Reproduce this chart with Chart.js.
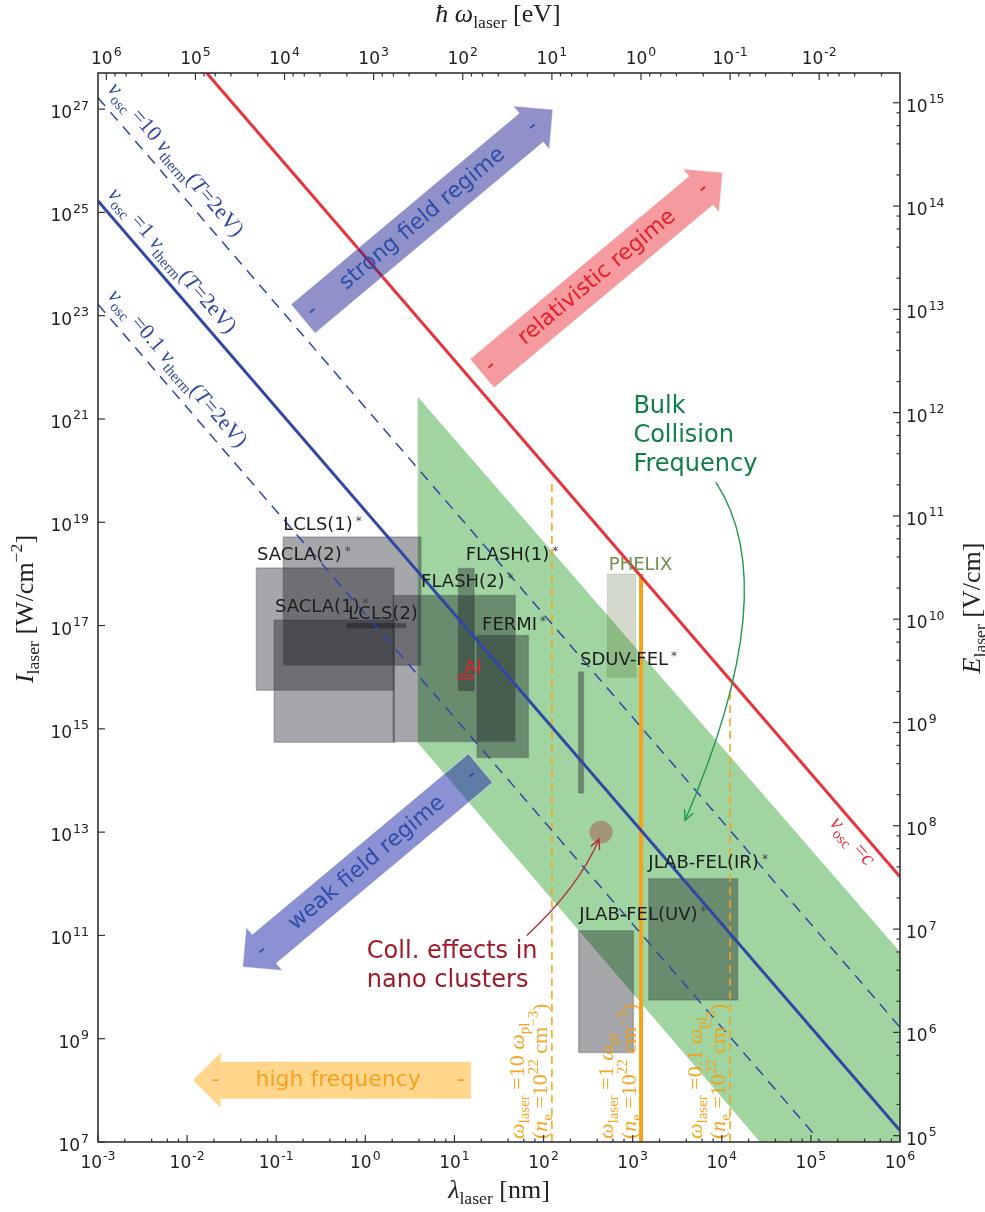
<!DOCTYPE html>
<html>
<head>
<meta charset="utf-8">
<script src="https://cdn.jsdelivr.net/npm/chart.js@4.4.1/dist/chart.umd.min.js"></script>
<style>
html, body { margin: 0; padding: 0; background: #fff; }
#wrap { width: 985px; height: 1212px; }
</style>
</head>
<body>
<div id="wrap"><canvas id="chart" width="985" height="1212"></canvas></div>
<script>
// axis ranges (lambda in nm, intensity in W/cm^2)
const lamRange = [1e-3, 1e6];
const intRange = [1e7, 5e27];
const HC = 1239.84;   // eV nm
const KE = 1.327e-3;  // I = KE * E^2  (E in V/cm)

// tick labels (exponents)
const xTickExp = [-3, -2, -1, 0, 1, 2, 3, 4, 5, 6];
const yTickExp = [7, 9, 11, 13, 15, 17, 19, 21, 23, 25, 27];
const eTickExp = [5, 6, 7, 8, 9, 10, 11, 12, 13, 14, 15];
const hwTickExp = [6, 5, 4, 3, 2, 1, 0, -1, -2];

// v_osc = v_therm lines
const lineLambda = [1e-3, 1e6];
const vTherm10 = [1.66e27, 1.66e9];
const vTherm1 = [1.66e25, 1.66e7];
const vTherm01 = [1.66e23, 1.66e5];
// v_osc = c
const relLambda = [0.0166, 1e6];
const relI = [5e27, 1.37e12];

// bulk collision frequency band
const bandLambda = [3.87, 1e6, 1e6, 2.69e4, 3.87];
const bandI = [2.7e21, 4.8e10, 1e7, 1e7, 5.4e14];

// light sources
const facilities = ['LCLS(1)', 'SACLA(2)', 'SACLA(1)', 'LCLS(2)', 'FLASH(2)', 'FLASH(1)', 'FERMI', 'SDUV-FEL', 'JLAB-FEL(UV)', 'JLAB-FEL(IR)'];
const lamMin = [0.12, 0.06, 0.095, 0.62, 2.06, 11.1, 18, 248, 248, 1517];
const lamMax = [4.2, 2.08, 2.12, 2.84, 48, 16.6, 67.5, 280, 1019, 15100];
const intMin = [1.7e16, 5.6e15, 5.5e14, 9.1e16, 5.7e14, 5.5e15, 2.8e14, 5.7e13, 5.4e8, 5.6e9];
const intMax = [5.2e18, 1.3e18, 1.26e17, 1.09e17, 3.8e17, 1.27e18, 6.4e16, 1.26e16, 1.23e11, 1.25e12];

const phelixLam = [520, 1084];
const phelixI = [1e16, 1e18];
const alLam = [11, 16.3];
const alI = [9.5e15, 1.07e16];

// nano cluster point
const clusterLam = [442];
const clusterI = [1e13];

// omega_laser = omega_pl lines
const plasmaLam = [124, 1242, 12400];
const plasmaTop = [6e19, 1e18, 6.3e15];
const plasmaFactor = ['10', '1', '0.1'];

// box labels
const labelText = ['LCLS(1)', 'SACLA(2)', 'SACLA(1)', 'LCLS(2)', 'FLASH(1)', 'FLASH(2)', 'FERMI', 'SDUV-FEL', 'JLAB-FEL(IR)', 'JLAB-FEL(UV)', 'PHELIX', 'Al'];
const labelLam = [0.12, 0.061, 0.097, 0.644, 13.4, 4.22, 20.4, 257, 1500, 252, 540, 12.9];
const labelI = [7.2e18, 1.83e18, 1.83e17, 1.36e17, 1.83e18, 5.5e17, 8.3e16, 1.74e16, 2e12, 2e11, 1.2e18, 1.2e16];
const labelStar = [1, 1, 1, 0, 1, 1, 1, 1, 1, 1, 0, 0];

// regime arrows
const arrowText = ['strong field regime', 'relativistic regime', 'weak field regime', 'high frequency'];
const arrowTailLam = [0.2, 20.4, 19.6, 15.4];
const arrowTailI = [8.7e22, 7.6e21, 1.74e14, 1.57e8];
const arrowTipLam = [127, 1.02e4, 0.042, 0.0116];
const arrowTipI = [9.8e26, 5.9e25, 2.45e10, 1.57e8];

// line label anchors
const lineLabelLam = [1.26e-3, 1.26e-3, 1.26e-3, 1.6e5];
const lineLabelI = [2.39e27, 2.2e25, 2.37e23, 1.47e13];

// curved annotation arrows: start, control, end
const bulkArrowLam = [8570, 5.2e4, 3870];
const bulkArrowI = [6e19, 5.3e17, 1.7e13];
const collArrowLam = [64.8, 244, 420];
const collArrowI = [1e11, 8.3e11, 7.3e12];

// styles
const BLUE = '#3048a4';
const RED = '#e8333a';
const ORANGE = '#f7a21b';
const arrowFill = ['rgba(35,35,150,0.5)', 'rgba(232,30,40,0.45)', 'rgba(35,45,170,0.52)', 'rgba(255,165,0,0.45)'];
const arrowInk = ['#2c4ea8', '#e8202a', '#2c4ea8', '#f5a21e'];

function xy(xs, ys) { return xs.map((x, i) => ({x: x, y: ys[i]})); }
function rect(l0, l1, i0, i1) {
  return [{x: l0, y: i0}, {x: l1, y: i0}, {x: l1, y: i1}, {x: l0, y: i1}, {x: l0, y: i0}];
}

const datasets = [];
datasets.push({data: xy(bandLambda, bandI), showLine: true, fill: 'shape', backgroundColor: 'rgba(44,160,44,0.45)', borderColor: 'rgba(0,0,0,0)', borderWidth: 0, pointRadius: 0, order: 90});
datasets.push({data: rect(phelixLam[0], phelixLam[1], phelixI[0], phelixI[1]), showLine: true, fill: 'shape', backgroundColor: 'rgba(85,107,47,0.25)', borderColor: 'rgba(85,107,47,0.12)', borderWidth: 1.5, pointRadius: 0, order: 80});
facilities.forEach((name, i) => {
  datasets.push({label: name, data: rect(lamMin[i], lamMax[i], intMin[i], intMax[i]), showLine: true, fill: 'shape',
    backgroundColor: 'rgba(14,15,25,0.37)', borderColor: 'rgba(80,80,90,0.35)', borderWidth: 1.5, pointRadius: 0, order: 70});
});
datasets.push({data: xy(clusterLam, clusterI), pointRadius: 11.5, pointBackgroundColor: '#a39677', pointBorderWidth: 0, order: 30});
plasmaLam.forEach((l, i) => {
  datasets.push({data: [{x: l, y: intRange[0]}, {x: l, y: plasmaTop[i]}], showLine: true, pointRadius: 0,
    borderColor: i === 1 ? ORANGE : 'rgba(247,162,27,0.85)', borderWidth: i === 1 ? 4 : 1.8, borderDash: i === 1 ? [] : [8, 5], order: 40});
});
[vTherm10, vTherm1, vTherm01].forEach((ys, i) => {
  datasets.push({data: xy(lineLambda, ys), showLine: true, pointRadius: 0, borderColor: BLUE,
    borderWidth: i === 1 ? 3 : 1.5, borderDash: i === 1 ? [] : [11, 8], order: 35});
});
datasets.push({data: xy(relLambda, relI), showLine: true, pointRadius: 0, borderColor: RED, borderWidth: 3, order: 34});
datasets.push({data: rect(alLam[0], alLam[1], alI[0], alI[1]), showLine: true, pointRadius: 0, borderColor: '#e8202a', borderWidth: 1.2, order: 20});

// ---------- text helpers ----------
function mathText(ctx, parts, x, y, size, align, color) {
  const small = size * 0.68;
  const font = k => (k === 'i' ? 'italic ' : '') + (k === 'b' || k === 'p' ? small : size) + 'px "Liberation Serif", serif';
  let w = 0;
  for (const [t, k] of parts) { ctx.font = font(k); w += ctx.measureText(t).width; }
  let cx = align === 'center' ? x - w / 2 : x;
  ctx.fillStyle = color; ctx.textAlign = 'left'; ctx.textBaseline = 'alphabetic';
  for (const [t, k] of parts) {
    ctx.font = font(k);
    const dy = k === 'b' ? size * 0.24 : k === 'p' ? -size * 0.42 : 0;
    ctx.fillText(t, cx, y + dy);
    cx += ctx.measureText(t).width;
  }
}

function pow10(ctx, e, x, y, align) {
  const exp = e < 0 ? '-' + Math.abs(e) : String(e);
  ctx.font = '17px "DejaVu Sans"';
  const wb = ctx.measureText('10').width;
  ctx.font = '12.5px "DejaVu Sans"';
  const we = ctx.measureText(exp).width;
  const w = wb + 1 + we;
  const x0 = align === 'right' ? x - w : align === 'center' ? x - w / 2 : x;
  ctx.fillStyle = '#222'; ctx.textAlign = 'left'; ctx.textBaseline = 'alphabetic';
  ctx.font = '17px "DejaVu Sans"';
  ctx.fillText('10', x0, y);
  ctx.font = '12.5px "DejaVu Sans"';
  ctx.fillText(exp, x0 + wb + 1, y - 8.5);
}

function drawArrow(ctx, T, P, H, fill, text, ink) {
  const dx = P.x - T.x, dy = P.y - T.y, L = Math.hypot(dx, dy);
  const ux = dx / L, uy = dy / L, nx = -uy, ny = ux;
  const hl = 0.75 * H, bx = P.x - ux * hl, by = P.y - uy * hl;
  const h = H / 2, hw = 0.75 * H;
  ctx.beginPath();
  ctx.moveTo(T.x + nx * h, T.y + ny * h);
  ctx.lineTo(bx + nx * h, by + ny * h);
  ctx.lineTo(bx + nx * hw, by + ny * hw);
  ctx.lineTo(P.x, P.y);
  ctx.lineTo(bx - nx * hw, by - ny * hw);
  ctx.lineTo(bx - nx * h, by - ny * h);
  ctx.lineTo(T.x - nx * h, T.y - ny * h);
  ctx.closePath();
  ctx.fillStyle = fill;
  ctx.fill();
  ctx.strokeStyle = 'rgba(255,255,255,0.45)';
  ctx.lineWidth = 1;
  ctx.stroke();
  let ang = Math.atan2(uy, ux);
  if (ux < 0) ang += Math.PI;
  ctx.fillStyle = ink;
  ctx.font = '22px "DejaVu Sans"';
  ctx.textAlign = 'center';
  ctx.textBaseline = 'middle';
  const put = (t, s) => {
    ctx.save();
    ctx.translate(T.x + dx * t, T.y + dy * t);
    ctx.rotate(ang);
    ctx.fillText(s, 0, 0);
    ctx.restore();
  };
  put(0.037, '-');
  put(0.919, '-');
  put(0.478, text);
}

function curveArrow(ctx, S, C, E, color) {
  ctx.strokeStyle = color;
  ctx.lineWidth = 1.4;
  ctx.beginPath();
  ctx.moveTo(S.x, S.y);
  ctx.quadraticCurveTo(C.x, C.y, E.x, E.y);
  ctx.stroke();
  const a = Math.atan2(E.y - C.y, E.x - C.x);
  ctx.beginPath();
  ctx.moveTo(E.x - 11 * Math.cos(a - 0.45), E.y - 11 * Math.sin(a - 0.45));
  ctx.lineTo(E.x, E.y);
  ctx.lineTo(E.x - 11 * Math.cos(a + 0.45), E.y - 11 * Math.sin(a + 0.45));
  ctx.stroke();
}

const decor = {
  id: 'decor',
  afterDatasetsDraw(chart) {
    const ctx = chart.ctx;
    const sx = chart.scales.x, sy = chart.scales.y;
    const sx2 = chart.scales.x2, sy2 = chart.scales.y2;
    const P = (l, i) => ({x: sx.getPixelForValue(l), y: sy.getPixelForValue(i)});
    const {left, right, top, bottom} = chart.chartArea;
    ctx.save();

    // regime arrows
    arrowText.forEach((t, i) => {
      drawArrow(ctx, P(arrowTailLam[i], arrowTailI[i]), P(arrowTipLam[i], arrowTipI[i]), 37.5, arrowFill[i], t, arrowInk[i]);
    });

    // box labels
    labelText.forEach((t, i) => {
      const p = P(labelLam[i], labelI[i]);
      ctx.font = '18px "DejaVu Sans"';
      ctx.textAlign = 'left'; ctx.textBaseline = 'alphabetic';
      ctx.fillStyle = t === 'PHELIX' ? '#6f8f4f' : t === 'Al' ? '#e8202a' : '#1e1e1e';
      ctx.fillText(t, p.x, p.y);
      if (labelStar[i]) {
        const w = ctx.measureText(t).width;
        ctx.font = '12px "DejaVu Sans"';
        ctx.fillStyle = '#444';
        ctx.fillText('*', p.x + w + 3, p.y - 5);
      }
    });

    // text annotations
    let p = P(1019, 1.3e21);
    ctx.font = '24px "DejaVu Sans"'; ctx.fillStyle = '#0e7f45'; ctx.textAlign = 'left'; ctx.textBaseline = 'alphabetic';
    ['Bulk', 'Collision', 'Frequency'].forEach((s, k) => ctx.fillText(s, p.x, p.y + k * 29));
    p = P(1.04, 3.6e10);
    ctx.fillStyle = '#a3192a';
    ['Coll. effects in', 'nano clusters'].forEach((s, k) => ctx.fillText(s, p.x, p.y + k * 28.4));

    curveArrow(ctx, P(bulkArrowLam[0], bulkArrowI[0]), P(bulkArrowLam[1], bulkArrowI[1]), P(bulkArrowLam[2], bulkArrowI[2]), '#1f9a4a');
    curveArrow(ctx, P(collArrowLam[0], collArrowI[0]), P(collArrowLam[1], collArrowI[1]), P(collArrowLam[2], collArrowI[2]), '#b0303c');

    // labels along the v_osc lines
    const a1 = P(lineLambda[0], vTherm1[0]), b1 = P(lineLambda[1], vTherm1[1]);
    const angB = Math.atan2(b1.y - a1.y, b1.x - a1.x);
    const a2 = P(relLambda[0], relI[0]), b2 = P(relLambda[1], relI[1]);
    const angR = Math.atan2(b2.y - a2.y, b2.x - a2.x);
    ['10', '1', '0.1'].forEach((f, i) => {
      const q = P(lineLabelLam[i], lineLabelI[i]);
      ctx.save(); ctx.translate(q.x, q.y); ctx.rotate(angB);
      mathText(ctx, [['v', 'i'], ['osc', 'b'], [' =' + f + ' ', 'r'], ['v', 'i'], ['therm', 'b'], ['(', 'r'], ['T', 'i'], ['=2eV)', 'r']], 0, 0, 22, 'left', BLUE);
      ctx.restore();
    });
    let q = P(lineLabelLam[3], lineLabelI[3]);
    ctx.save(); ctx.translate(q.x, q.y); ctx.rotate(angR);
    mathText(ctx, [['v', 'i'], ['osc', 'b'], [' =', 'r'], ['c', 'i']], 0, 0, 22, 'left', RED);
    ctx.restore();

    // plasma frequency labels
    plasmaLam.forEach((l, i) => {
      const x = sx.getPixelForValue(l);
      ctx.save(); ctx.translate(x - 28, bottom - 3); ctx.rotate(-Math.PI / 2);
      mathText(ctx, [['ω', 'i'], ['laser', 'b'], [' =' + plasmaFactor[i] + ' ', 'r'], ['ω', 'i'], ['pl', 'b']], 0, 0, 22, 'left', 'rgba(245,160,20,0.95)');
      ctx.restore();
      ctx.save(); ctx.translate(x - 5, bottom - 3); ctx.rotate(-Math.PI / 2);
      mathText(ctx, [['(', 'r'], ['n', 'i'], ['e', 'b'], [' =10', 'r'], ['22', 'p'], [' cm', 'r'], ['−3', 'p'], [')', 'r']], 0, 0, 22, 'left', 'rgba(245,160,20,0.95)');
      ctx.restore();
    });

    // frame and ticks
    ctx.strokeStyle = '#333';
    ctx.lineWidth = 1.6;
    ctx.strokeRect(left, top, right - left, bottom - top);
    ctx.lineWidth = 1.2;
    const tk = (x1, y1, x2, y2) => { ctx.beginPath(); ctx.moveTo(x1, y1); ctx.lineTo(x2, y2); ctx.stroke(); };
    const inRange = (v, s) => v >= s.min * 0.9999 && v <= s.max * 1.0001;
    xTickExp.forEach(e => {
      const x = sx.getPixelForValue(Math.pow(10, e));
      tk(x, bottom, x, bottom - 7);
      pow10(ctx, e, x, 1168, 'center');
      [2, 4, 6, 8].forEach(m => {
        const v = m * Math.pow(10, e);
        if (inRange(v, sx)) { const xm = sx.getPixelForValue(v); tk(xm, bottom, xm, bottom - 3.5); }
      });
    });
    yTickExp.forEach(e => {
      const y = sy.getPixelForValue(Math.pow(10, e));
      tk(left, y, left + 7, y);
      pow10(ctx, e, 89, y + 9, 'right');
    });
    eTickExp.forEach(e => {
      const y = sy2.getPixelForValue(Math.pow(10, e));
      tk(right, y, right - 7, y);
      pow10(ctx, e, 906, y + 9, 'left');
    });
    for (let e = 3; e <= 15; e++) {
      [2, 4, 6, 8].forEach(m => {
        const v = m * Math.pow(10, e);
        if (inRange(v, sy2)) { const y = sy2.getPixelForValue(v); tk(right, y, right - 3.5, y); }
      });
    }
    hwTickExp.forEach(e => {
      const x = sx2.getPixelForValue(Math.pow(10, e));
      tk(x, top, x, top + 7);
      pow10(ctx, e, x, 64, 'center');
    });
    for (let e = -3; e <= 6; e++) {
      [2, 4, 6, 8].forEach(m => {
        const v = m * Math.pow(10, e);
        if (inRange(v, sx2)) { const x = sx2.getPixelForValue(v); tk(x, top, x, top + 3.5); }
      });
    }

    // axis titles
    mathText(ctx, [['λ', 'i'], ['laser', 'b'], [' [nm]', 'r']], 499, 1198, 26, 'center', '#222');
    mathText(ctx, [['ħ', 'i'], [' ω', 'i'], ['laser', 'b'], [' [eV]', 'r']], 498, 22, 26, 'center', '#222');
    ctx.save(); ctx.translate(33, 609); ctx.rotate(-Math.PI / 2);
    mathText(ctx, [['I', 'i'], ['laser', 'b'], [' [W/cm', 'r'], ['−2', 'p'], [']', 'r']], 0, 0, 26, 'center', '#222');
    ctx.restore();
    ctx.save(); ctx.translate(980, 608); ctx.rotate(-Math.PI / 2);
    mathText(ctx, [['E', 'i'], ['laser', 'b'], [' [V/cm]', 'r']], 0, 0, 26, 'center', '#222');
    ctx.restore();

    ctx.restore();
  }
};

new Chart(document.getElementById('chart'), {
  type: 'scatter',
  data: {datasets: datasets},
  options: {
    responsive: false,
    animation: false,
    devicePixelRatio: 1,
    events: [],
    layout: {padding: {left: 98, right: 85, top: 73, bottom: 70}},
    plugins: {legend: {display: false}, tooltip: {enabled: false}},
    scales: {
      x: {type: 'logarithmic', min: lamRange[0], max: lamRange[1], display: false},
      y: {type: 'logarithmic', min: intRange[0], max: intRange[1], display: false},
      x2: {type: 'logarithmic', position: 'top', reverse: true, min: HC / lamRange[1], max: HC / lamRange[0], display: false},
      y2: {type: 'logarithmic', position: 'right', min: Math.sqrt(intRange[0] / KE), max: Math.sqrt(intRange[1] / KE), display: false}
    }
  },
  plugins: [decor]
});
</script>
</body>
</html>
